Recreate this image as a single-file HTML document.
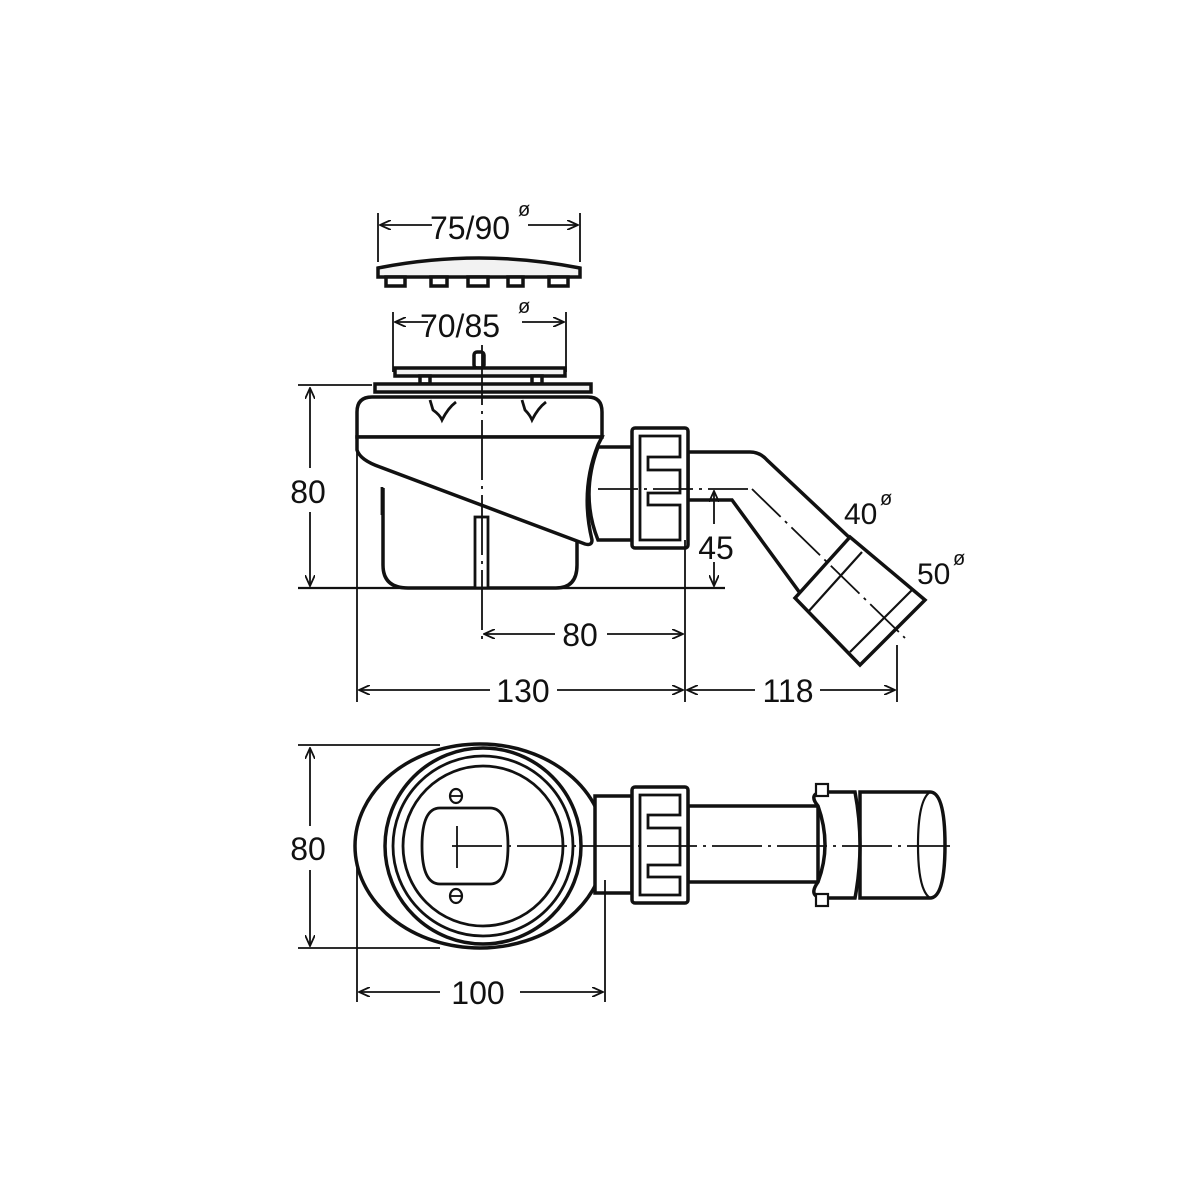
<!DOCTYPE html>
<html><head><meta charset="utf-8"><style>
html,body{margin:0;padding:0;background:#fff;}
svg{display:block;}
text{font-family:"Liberation Sans",sans-serif;fill:#111;}
</style></head><body>
<svg width="1200" height="1200" viewBox="0 0 1200 1200" xmlns="http://www.w3.org/2000/svg">
<defs>
<marker id="a" viewBox="0 0 12 10" refX="11" refY="5" markerWidth="12" markerHeight="10" markerUnits="userSpaceOnUse" orient="auto-start-reverse">
<path d="M0,0 L11,5 L0,10" fill="none" stroke="#111" stroke-width="1.8"/></marker>
</defs>
<g stroke="#111" fill="none" stroke-width="1.8">
<line x1="378" y1="213" x2="378" y2="262"/><line x1="580" y1="213" x2="580" y2="262"/>
<line x1="380" y1="225" x2="432" y2="225" marker-start="url(#a)"/><line x1="528" y1="225" x2="578" y2="225" marker-end="url(#a)"/>
<line x1="393" y1="312" x2="393" y2="372"/><line x1="566" y1="312" x2="566" y2="372"/>
<line x1="395" y1="322" x2="428" y2="322" marker-start="url(#a)"/><line x1="522" y1="322" x2="564" y2="322" marker-end="url(#a)"/>
</g>
<g stroke="#111" stroke-width="3.5" fill="#fff">
<path d="M378,268 Q479,248 580,268 L580,277 L378,277 Z" fill="#f2f2f2"/>
<rect x="386" y="277" width="19" height="9"/><rect x="431" y="277" width="16" height="9"/><rect x="468" y="277" width="20" height="9"/><rect x="508" y="277" width="15" height="9"/><rect x="549" y="277" width="19" height="9"/>
<rect x="474" y="352" width="10" height="16" rx="3"/>
<rect x="395" y="368" width="170" height="8" fill="#f2f2f2"/>
<rect x="420" y="376" width="10" height="8"/><rect x="532" y="376" width="10" height="8"/>
<rect x="375" y="384" width="216" height="8" fill="#f2f2f2"/>
<path d="M357,437 L357,412 Q357,397 372,397 L588,397 Q602,397 602,412 L602,437 Z"/>
<path d="M383,488 L383,565 Q383,588 408,588 L556,588 Q577,588 577,565 L577,540"/>
<path d="M357,437 L602,437 L598,445 Q580,490 592,540 Q592,546 585,544 L380,467 Q360,460 357,450 Z"/>
<path d="M430,400 L433,410 Q440,415 442,420 Q448,408 456,402" fill="none" stroke-width="2.8"/>
<path d="M522,400 L525,410 Q530,415 532,420 Q538,408 546,402" fill="none" stroke-width="2.8"/>
<rect x="475" y="517" width="13" height="71" fill="#fff" stroke-width="2.8"/>
<line x1="382" y1="487" x2="382" y2="515" stroke-width="2.8"/>
<path d="M598,447 L632,447 L632,540 L598,540 Q580,495 598,447 Z"/>
<path d="M688,452 L750,452 Q760,452 767,460 L852,540 L800,593 L732,500 L688,500 Z"/>
<rect x="632" y="428" width="56" height="120" rx="3"/>
<path d="M640,436 L680,436 L680,457 L648,457 L648,470 L680,470 L680,493 L648,493 L648,505 L680,505 L680,540 L640,540 Z" fill="none" stroke-width="2.8"/>
<path d="M795,598 L850,537 L925,600 L860,665 Z"/>
<line x1="808" y1="612" x2="862" y2="552" stroke-width="2.2"/>
<line x1="850" y1="652" x2="912" y2="590" stroke-width="2.2"/>
</g>
<g stroke="#111" stroke-width="1.8" fill="none">
<line x1="482" y1="345" x2="482" y2="640" stroke-dasharray="60,6,3,6"/>
<line x1="598" y1="489" x2="752" y2="489" stroke-dasharray="40,6,3,6"/>
<path d="M752,489 L905,638" stroke-dasharray="40,6,3,6"/>
<line x1="298" y1="385" x2="372" y2="385"/><line x1="298" y1="588" x2="725" y2="588" stroke-width="2.2"/>
<line x1="310" y1="388" x2="310" y2="468" marker-start="url(#a)"/><line x1="310" y1="512" x2="310" y2="586" marker-end="url(#a)"/>
<line x1="714" y1="491" x2="714" y2="524" marker-start="url(#a)"/><line x1="714" y1="562" x2="714" y2="586" marker-end="url(#a)"/>
<line x1="357" y1="440" x2="357" y2="702"/><line x1="685" y1="540" x2="685" y2="702"/><line x1="897" y1="645" x2="897" y2="702"/>
<line x1="484" y1="634" x2="555" y2="634" marker-start="url(#a)"/><line x1="607" y1="634" x2="683" y2="634" marker-end="url(#a)"/>
<line x1="359" y1="690" x2="490" y2="690" marker-start="url(#a)"/><line x1="557" y1="690" x2="683" y2="690" marker-end="url(#a)"/>
<line x1="687" y1="690" x2="755" y2="690" marker-start="url(#a)"/><line x1="820" y1="690" x2="895" y2="690" marker-end="url(#a)"/>
</g>
<text x="470" y="239" font-size="32" text-anchor="middle">75/90</text><text x="518" y="216" font-size="20">ø</text>
<text x="460" y="337" font-size="32" text-anchor="middle">70/85</text><text x="518" y="313" font-size="20">ø</text>
<text x="308" y="503" font-size="32" text-anchor="middle">80</text>
<text x="716" y="559" font-size="32" text-anchor="middle">45</text>
<text x="580" y="646" font-size="32" text-anchor="middle">80</text>
<text x="523" y="702" font-size="32" text-anchor="middle">130</text>
<text x="788" y="702" font-size="32" text-anchor="middle">118</text>
<text x="844" y="524" font-size="30">40</text><text x="880" y="505" font-size="20">ø</text>
<text x="917" y="584" font-size="30">50</text><text x="953" y="565" font-size="20">ø</text>

<g stroke="#111" stroke-width="3.5" fill="#fff">
<rect x="688" y="806" width="130" height="76"/>
<path d="M860,792 L930,792 Q945,792 945,845 Q945,898 930,898 L860,898 Z"/>
<path d="M930,792 Q918,800 918,845 Q918,890 930,898" fill="none" stroke-width="2.2"/>
<path d="M818,806 Q808,794 822,792 L855,792 Q865,845 855,898 L822,898 Q808,896 818,882 Q832,845 818,806 Z"/>
<rect x="816" y="784" width="12" height="12" stroke-width="2.2"/><rect x="816" y="894" width="12" height="12" stroke-width="2.2"/>
<ellipse cx="480" cy="846" rx="125" ry="102"/>
<path d="M595,796 L632,796 L632,893 L595,893 Z"/>
<rect x="632" y="787" width="56" height="116" rx="3"/>
<path d="M640,795 L680,795 L680,815 L648,815 L648,828 L680,828 L680,865 L648,865 L648,877 L680,877 L680,895 L640,895 Z" fill="none" stroke-width="2.8"/>
<circle cx="483" cy="846" r="98"/>
<circle cx="483" cy="846" r="90" stroke-width="2.8"/>
<circle cx="483" cy="846" r="80" stroke-width="2.8"/>
<path d="M440,808 L490,808 Q508,808 508,846 Q508,884 490,884 L440,884 Q422,884 422,846 Q422,808 440,808 Z" stroke-width="2.8"/>
<ellipse cx="456" cy="796" rx="6" ry="7" stroke-width="2.2"/><ellipse cx="456" cy="896" rx="6" ry="7" stroke-width="2.2"/>
</g>
<g stroke="#111" stroke-width="1.8" fill="none">
<line x1="450" y1="796" x2="462" y2="796"/><line x1="450" y1="896" x2="462" y2="896"/>
<line x1="452" y1="846" x2="950" y2="846" stroke-dasharray="50,6,3,6"/>
<line x1="457" y1="826" x2="457" y2="868"/>
<line x1="298" y1="745" x2="440" y2="745"/><line x1="298" y1="948" x2="440" y2="948"/>
<line x1="310" y1="748" x2="310" y2="826" marker-start="url(#a)"/><line x1="310" y1="870" x2="310" y2="946" marker-end="url(#a)"/>
<line x1="357" y1="860" x2="357" y2="1002"/><line x1="605" y1="880" x2="605" y2="1002"/>
<line x1="359" y1="992" x2="440" y2="992" marker-start="url(#a)"/><line x1="520" y1="992" x2="603" y2="992" marker-end="url(#a)"/>
</g>
<text x="308" y="860" font-size="32" text-anchor="middle">80</text>
<text x="478" y="1004" font-size="32" text-anchor="middle">100</text>
</svg>
</body></html>
